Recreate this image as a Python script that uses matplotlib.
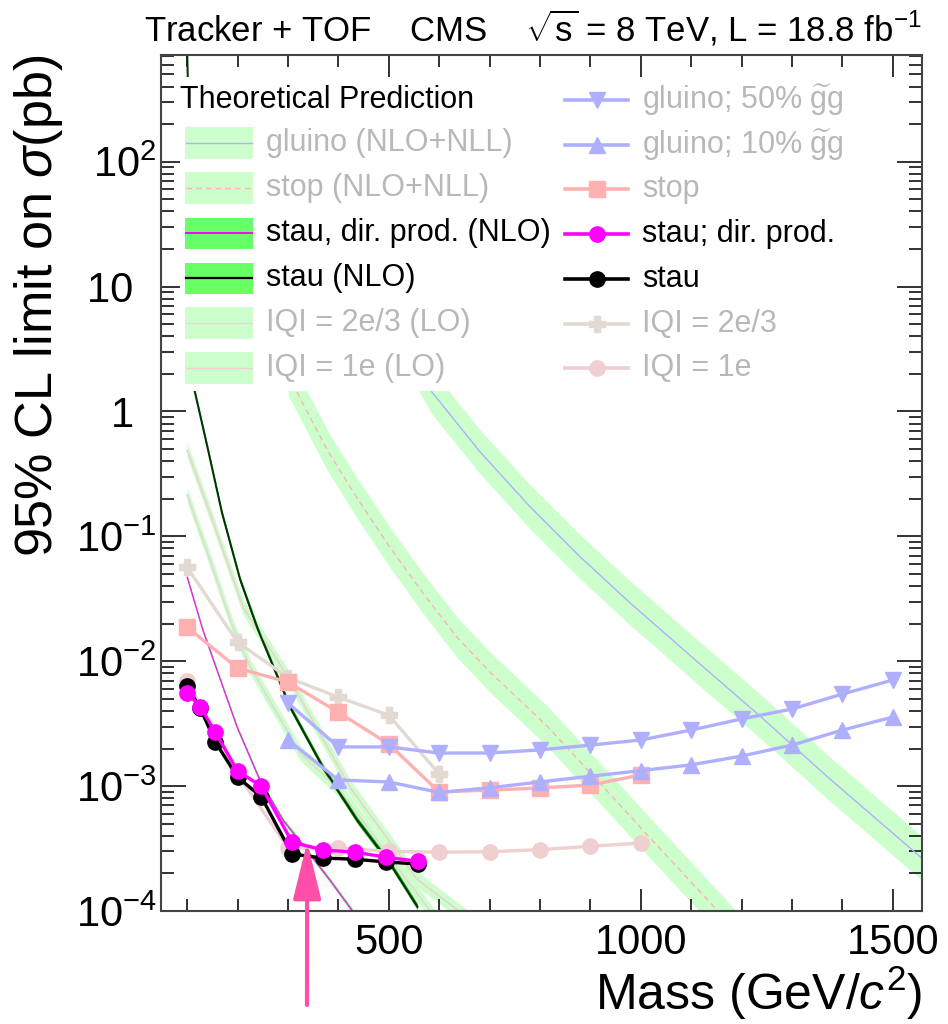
import matplotlib
matplotlib.use("Agg")
import matplotlib.pyplot as plt
from matplotlib.patches import Rectangle
from matplotlib.lines import Line2D
from matplotlib.ticker import LogLocator, MultipleLocator, NullFormatter

plt.rcParams['font.family'] = ['Liberation Sans', 'DejaVu Sans']
plt.rcParams['mathtext.fontset'] = 'custom'
plt.rcParams['mathtext.rm'] = 'Liberation Sans'
plt.rcParams['mathtext.it'] = 'Liberation Sans:italic'
plt.rcParams['mathtext.bf'] = 'Liberation Sans:bold'

# observed 95% CL limits (pb)
stau_mass = [100, 126, 156, 200, 247, 308, 370, 432, 494, 557]
stau_lim = [6.3e-3, 4.2e-3, 2.25e-3, 1.18e-3, 8.2e-4, 2.86e-4, 2.65e-4, 2.6e-4, 2.47e-4, 2.38e-4]
staud_lim = [5.6e-3, 4.3e-3, 2.7e-3, 1.32e-3, 1.0e-3, 3.56e-4, 3.08e-4, 2.96e-4, 2.7e-4, 2.5e-4]

q_mass = [100, 200, 300, 400, 500, 600, 700, 800, 900, 1000]
q1_lim = [6.9e-3, 1.25e-3, 3.2e-4, 3.2e-4, 3.0e-4, 2.96e-4, 2.98e-4, 3.1e-4, 3.3e-4, 3.5e-4]
q2_mass = [100, 200, 300, 400, 500, 600]
q2_lim = [5.65e-2, 1.42e-2, 7.4e-3, 5.15e-3, 3.7e-3, 1.25e-3]

stop_mass = [100, 200, 300, 400, 500, 600, 700, 800, 900, 1000]
stop_lim = [1.87e-2, 8.8e-3, 6.8e-3, 3.9e-3, 2.17e-3, 8.96e-4, 9.3e-4, 9.66e-4, 1.02e-3, 1.23e-3]

gl_mass = [300, 400, 500, 600, 700, 800, 900, 1000, 1100, 1200, 1300, 1400, 1500]
gl50_lim = [4.63e-3, 2.06e-3, 2.06e-3, 1.84e-3, 1.84e-3, 1.95e-3, 2.13e-3, 2.34e-3, 2.81e-3, 3.45e-3, 4.14e-3, 5.46e-3, 7.07e-3]
gl10_lim = [2.34e-3, 1.12e-3, 1.08e-3, 8.9e-4, 9.7e-4, 1.08e-3, 1.2e-3, 1.33e-3, 1.48e-3, 1.74e-3, 2.13e-3, 2.81e-3, 3.57e-3]

# theoretical cross sections (pb)
th_gl_mass = [540, 585, 681, 780, 879, 978, 1111, 1237, 1369, 1560]
th_gl = [3.0, 1.44, 0.475, 0.173, 6.9e-2, 2.95e-2, 1.0e-2, 3.63e-3, 1.2e-3, 2.6e-4]
th_stop_mass = [300, 324, 378, 437, 502, 568, 635, 702, 814, 913, 1012, 1153, 1200]
th_stop = [1.96, 1.28, 0.49, 0.203, 8.2e-2, 3.5e-2, 1.56e-2, 8.1e-3, 3.03e-3, 1.12e-3, 4.1e-4, 1.0e-4, 6.2e-5]
th_staud_mass = [100, 131, 159, 199, 244, 290, 337, 383, 428, 450]
th_staud = [4.7e-2, 1.78e-2, 8.5e-3, 2.97e-3, 1.12e-3, 5.36e-4, 3.08e-4, 1.77e-4, 1.0e-4, 7.5e-5]
th_stau_mass = [100, 112, 140, 169, 205, 239, 304, 369, 437, 502, 557]
th_stau = [800, 1.63, 0.52, 0.154, 4.5e-2, 1.85e-2, 4.3e-3, 1.42e-3, 5.35e-4, 2.42e-4, 1.08e-4]
th_q1_mass = [100, 145, 211, 304, 423, 556, 700]
th_q1 = [0.49, 0.154, 2.7e-2, 7.07e-3, 9.8e-4, 1.8e-4, 6.5e-5]
th_q2_mass = [100, 145, 191, 225, 324, 403, 600]
th_q2 = [0.214, 6.5e-2, 1.85e-2, 9.0e-3, 1.84e-3, 9.3e-4, 8e-5]

LGREEN = '#ccffcc'
BGREEN = '#66ff66'
C_GL = '#afafff'
C_STOP = '#ffb0b0'
C_Q2 = '#e2dad2'
C_Q1 = '#efcfcf'
FADE = '#b8b8b8'

fig = plt.figure(figsize=(9.48, 10.24), dpi=100)
ax = fig.add_axes([161 / 948, 113 / 1024, 761 / 948, 856 / 1024])
ax.set_yscale('log')


def band(m, v, f, fc, lc, lw=1.0, ls='-'):
    lo = [x / f for x in v]
    hi = [x * f for x in v]
    ax.fill_between(m, lo, hi, color=fc, lw=0, zorder=1)
    ax.plot(m, v, color=lc, lw=lw, ls=ls, zorder=2)


band(th_gl_mass, th_gl, 1.5, LGREEN, C_GL)
band(th_stop_mass, th_stop, 1.45, LGREEN, C_STOP, ls=(0, (4, 3)))
band(th_q1_mass, th_q1, 1.15, LGREEN, C_Q1, lw=1.2)
band(th_q2_mass, th_q2, 1.15, LGREEN, C_Q2, lw=1.2)
band(th_staud_mass, th_staud, 1.04, BGREEN, '#ee22ee', lw=1.0)
band(th_stau_mass, th_stau, 1.06, '#22aa22', '#003300', lw=1.4)

ax.plot(q_mass, q1_lim, color=C_Q1, lw=2.4, marker='o', ms=11, zorder=3)
ax.plot(q2_mass, q2_lim, color=C_Q2, lw=2.4, marker='P', ms=12, zorder=3)
ax.plot(stop_mass, stop_lim, color=C_STOP, lw=2.4, marker='s', ms=11, zorder=3)
ax.plot(gl_mass, gl50_lim, color=C_GL, lw=2.4, marker='v', ms=12, zorder=3)
ax.plot(gl_mass, gl10_lim, color=C_GL, lw=2.4, marker='^', ms=12, zorder=3)
ax.plot(stau_mass, stau_lim, color='black', lw=2.4, marker='o', ms=11, zorder=4)
ax.plot(stau_mass, staud_lim, color='#ff00ff', lw=2.4, marker='o', ms=11, zorder=5)

ax.set_xlim(48, 1558)
ax.set_ylim(1e-4, 715)

# axis style (ROOT like)
ax.xaxis.set_major_locator(MultipleLocator(500))
ax.xaxis.set_minor_locator(MultipleLocator(100))
ax.set_xticks([500, 1000, 1500])
ax.set_xticklabels(['500', '1000', '1500'], fontsize=30)
decades = [1e-4, 1e-3, 1e-2, 1e-1, 1, 10, 100]
ylabels = [r'$10^{-4}$', r'$10^{-3}$', r'$10^{-2}$', r'$10^{-1}$', '1\u2007', '10\u2007', r'$10^{2}$']
ax.set_yticks(decades)
ax.set_yticklabels(ylabels, fontsize=30)
ax.yaxis.set_minor_locator(LogLocator(base=10, subs=range(2, 10), numticks=20))
ax.yaxis.set_minor_formatter(NullFormatter())
ax.tick_params(which='both', direction='in', top=True, right=True, color='#222222', width=1.3)
ax.tick_params(axis='x', which='major', length=16, pad=9)
ax.tick_params(axis='x', which='minor', length=8.5)
ax.tick_params(axis='y', which='major', length=18, pad=3)
ax.tick_params(axis='y', which='minor', length=9.5)
for s in ax.spines.values():
    s.set_linewidth(1.5)
    s.set_color('#444444')

ax.set_ylabel(r'95% CL limit on $\sigma$(pb)', fontsize=37.5, loc='top')
ax.yaxis.set_label_coords(-0.126, 1.0)
ax.set_xlabel(r'Mass (GeV/$c^{2}$)', fontsize=36, loc='right')
ax.xaxis.set_label_coords(1.0, -0.062)

fig.text(922 / 948, 1 - 42 / 1024,
         r'Tracker + TOF    CMS    $\sqrt{\mathrm{s}}$ = 8 TeV, L = 18.8 fb$^{-1}$',
         ha='right', va='baseline', fontsize=25)


# legend drawn in pixel positions of the original
def fx(px):
    return (px - 161) / 761


def fy(py):
    return (911 - py) / 856


ax.add_patch(Rectangle((fx(180), fy(391)), fx(880) - fx(180), fy(77) - fy(391),
                       transform=ax.transAxes, fc='white', ec='none', zorder=8))
ax.text(fx(180), fy(100), 'Theoretical Prediction', transform=ax.transAxes,
        fontsize=22, va='center', ha='left', zorder=9)

left_rows = [
    ('gluino (NLO+NLL)', LGREEN, C_GL, '-', 1.0, FADE),
    ('stop (NLO+NLL)', LGREEN, C_STOP, (0, (4, 3)), 1.0, FADE),
    ('stau, dir. prod. (NLO)', BGREEN, '#ff00ff', '-', 1.4, 'black'),
    ('stau (NLO)', BGREEN, 'black', '-', 1.6, 'black'),
    ('IQI = 2e/3 (LO)', LGREEN, C_Q2, '-', 1.0, FADE),
    ('IQI = 1e (LO)', LGREEN, C_Q1, '-', 1.0, FADE),
]
for i, (lab, fc, lc, ls, lw, tc) in enumerate(left_rows):
    yc = 143 + 45 * i
    ax.add_patch(Rectangle((fx(185), fy(yc + 15.5)), fx(253) - fx(185), fy(yc - 15.5) - fy(yc + 15.5),
                           transform=ax.transAxes, fc=fc, ec='none', zorder=9))
    ax.add_line(Line2D([fx(186), fx(252)], [fy(yc), fy(yc)], transform=ax.transAxes,
                       color=lc, ls=ls, lw=lw, zorder=10))
    ax.text(fx(266), fy(yc), lab, transform=ax.transAxes, fontsize=22,
            va='center', ha='left', color=tc, zorder=10)

right_rows = [
    (r'gluino; 50% $\widetilde{\mathrm{g}}$g', C_GL, 'v', FADE),
    (r'gluino; 10% $\widetilde{\mathrm{g}}$g', C_GL, '^', FADE),
    ('stop', C_STOP, 's', FADE),
    ('stau; dir. prod.', '#ff00ff', 'o', 'black'),
    ('stau', 'black', 'o', 'black'),
    ('IQI = 2e/3', C_Q2, 'P', FADE),
    ('IQI = 1e', C_Q1, 'o', FADE),
]
for i, (lab, c, mk, tc) in enumerate(right_rows):
    yc = 100 + 44.7 * i
    ax.add_line(Line2D([fx(565), fx(628)], [fy(yc), fy(yc)], transform=ax.transAxes,
                       color=c, lw=2.6, zorder=10))
    ax.add_line(Line2D([fx(597)], [fy(yc)], transform=ax.transAxes, color=c,
                       marker=mk, ms=11, lw=0, zorder=10))
    ax.text(fx(642), fy(yc), lab, transform=ax.transAxes, fontsize=22,
            va='center', ha='left', color=tc, zorder=10)

# arrow marking the stau direct production limit
ax.annotate('', xy=(338, 3.57e-4), xycoords='data', xytext=(307, 1024 - 1005),
            textcoords='figure pixels', annotation_clip=False,
            arrowprops=dict(arrowstyle='-|>,head_length=1.75,head_width=0.43',
                            mutation_scale=20, color='#ff4fa8', lw=3,
                            shrinkA=0, shrinkB=0), zorder=12)

fig.savefig('out.png', dpi=100)
